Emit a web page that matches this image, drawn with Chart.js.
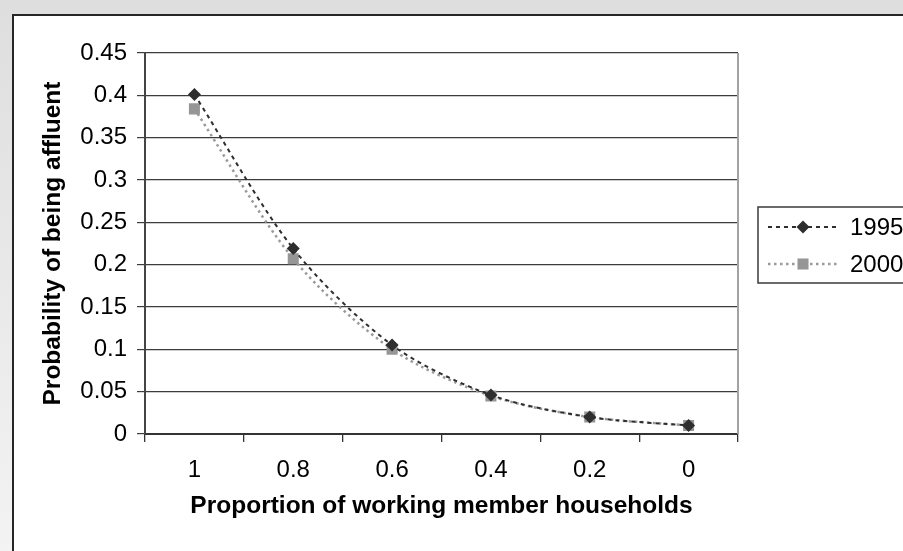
<!DOCTYPE html>
<html>
<head>
<meta charset="utf-8">
<script src="https://cdn.jsdelivr.net/npm/chart.js@4/dist/chart.umd.min.js"></script>
<style>
  html, body { margin: 0; padding: 0; background: #e4e4e4; }
  canvas { display: block; }
</style>
</head>
<body>
<canvas id="chart" width="903" height="551"></canvas>
<script>
// Share of working members in the household (category axis, read right to left)
const categories = ['1', '0.8', '0.6', '0.4', '0.2', '0'];

// Probability of being affluent for each survey year
const values1995 = [0.401, 0.219, 0.105, 0.046, 0.020, 0.010];
const values2000 = [0.384, 0.207, 0.100, 0.045, 0.020, 0.010];
const seriesNames = ['1995', '2000'];

// Value axis
const yMin = 0;
const yMax = 0.45;
const yStep = 0.05;

const FONT = "'Liberation Sans', Arial, Helvetica, sans-serif";

// Grey surround, white panel with a dark edge, and the plot-area right border
const framePlugin = {
  id: 'frame',
  beforeDraw(chart) {
    const { ctx, width, height } = chart;
    ctx.save();
    const g = ctx.createLinearGradient(0, 0, 0, height);
    g.addColorStop(0, '#dedede');
    g.addColorStop(1, '#f3f3f3');
    ctx.fillStyle = g;
    ctx.fillRect(0, 0, width, height);
    ctx.fillStyle = '#ffffff';
    ctx.fillRect(12, 14, width - 12, height - 14);
    ctx.strokeStyle = '#262626';
    ctx.lineWidth = 2;
    ctx.beginPath();
    ctx.moveTo(13, height);
    ctx.lineTo(13, 15);
    ctx.lineTo(width, 15);
    ctx.stroke();
    ctx.restore();
  },
  beforeDatasetsDraw(chart) {
    const { ctx, chartArea } = chart;
    ctx.save();
    ctx.strokeStyle = '#a3a3a3';
    ctx.lineWidth = 2;
    ctx.beginPath();
    ctx.moveTo(chartArea.right, chartArea.top);
    ctx.lineTo(chartArea.right, chartArea.bottom);
    ctx.stroke();
    ctx.restore();
  }
};

// Boxed legend with a line sample and marker for each dataset
function markerPath(ctx, style, x, y, r) {
  ctx.beginPath();
  if (style === 'rectRot') {
    ctx.moveTo(x, y - r);
    ctx.lineTo(x + r, y);
    ctx.lineTo(x, y + r);
    ctx.lineTo(x - r, y);
  } else {
    const s = r * Math.SQRT1_2;
    ctx.rect(x - s, y - s, 2 * s, 2 * s);
  }
  ctx.closePath();
}

const boxLegendPlugin = {
  id: 'boxLegend',
  afterDraw(chart, args, opts) {
    const { ctx } = chart;
    ctx.save();
    ctx.fillStyle = '#ffffff';
    ctx.fillRect(opts.x, opts.y, opts.width, opts.height);
    ctx.strokeStyle = '#3a3a3a';
    ctx.lineWidth = 1.5;
    ctx.strokeRect(opts.x, opts.y, opts.width, opts.height);
    chart.data.datasets.forEach((ds, i) => {
      const cy = opts.y + opts.firstRow + i * opts.rowGap;
      const x1 = opts.x + opts.lineStart;
      const x2 = opts.x + opts.lineEnd;
      ctx.strokeStyle = ds.borderColor;
      ctx.lineWidth = ds.borderWidth;
      ctx.setLineDash(ds.borderDash);
      ctx.beginPath();
      ctx.moveTo(x1, cy);
      ctx.lineTo(x2, cy);
      ctx.stroke();
      ctx.setLineDash([]);
      ctx.fillStyle = ds.pointBackgroundColor;
      markerPath(ctx, ds.pointStyle, (x1 + x2) / 2, cy, ds.pointRadius);
      ctx.fill();
      ctx.fillStyle = '#000000';
      ctx.font = opts.font;
      ctx.textAlign = 'left';
      ctx.textBaseline = 'middle';
      ctx.fillText(ds.label, opts.x + opts.textStart, cy + 1);
    });
    ctx.restore();
  }
};

new Chart(document.getElementById('chart'), {
  type: 'line',
  data: {
    labels: categories,
    datasets: [
      {
        label: seriesNames[0],
        data: values1995,
        borderColor: '#2e2e2e',
        borderWidth: 2,
        borderDash: [4, 4],
        tension: 0.3,
        pointStyle: 'rectRot',
        pointRadius: 6.5,
        pointBackgroundColor: '#2e2e2e',
        pointBorderWidth: 0,
        fill: false
      },
      {
        label: seriesNames[1],
        data: values2000,
        borderColor: '#9a9a9a',
        borderWidth: 2.5,
        borderDash: [2.5, 3.5],
        tension: 0.3,
        pointStyle: 'rect',
        pointRadius: 7.8,
        pointBackgroundColor: '#969696',
        pointBorderWidth: 0,
        fill: false
      }
    ]
  },
  options: {
    responsive: false,
    animation: false,
    events: [],
    layout: { padding: { left: 0, top: 53, right: 165, bottom: 0 } },
    plugins: {
      legend: { display: false },
      tooltip: { enabled: false },
      boxLegend: {
        x: 758, y: 207, width: 160, height: 76,
        firstRow: 20, rowGap: 37,
        lineStart: 10, lineEnd: 80, textStart: 92,
        font: '24px ' + FONT
      }
    },
    scales: {
      x: {
        type: 'category',
        offset: true,
        afterFit(scale) { scale.height = 117; },
        grid: {
          offset: true,
          drawOnChartArea: false,
          drawTicks: true,
          tickLength: 8,
          color: '#333333',
          lineWidth: 1.3
        },
        border: { display: true, color: '#333333', width: 2 },
        ticks: {
          color: '#000000',
          font: { family: FONT, size: 24 },
          padding: 14,
          maxRotation: 0,
          autoSkip: false
        },
        title: {
          display: true,
          text: 'Proportion of working member households',
          color: '#000000',
          font: { family: FONT, size: 24.5, weight: 'bold' },
          padding: { top: 0, bottom: 30 }
        }
      },
      y: {
        min: yMin,
        max: yMax,
        afterFit(scale) { scale.width = 145; },
        grid: {
          color: '#3c3c3c',
          lineWidth: 1.2,
          drawTicks: true,
          tickLength: 8
        },
        border: { display: true, color: '#444444', width: 2 },
        ticks: {
          stepSize: yStep,
          color: '#000000',
          font: { family: FONT, size: 24 },
          padding: 10,
          callback: (value) => String(parseFloat(Number(value).toFixed(2)))
        },
        title: {
          display: true,
          text: 'Probability of being affluent',
          color: '#000000',
          font: { family: FONT, size: 24.5, weight: 'bold' },
          padding: { top: 39, bottom: 0 }
        }
      }
    }
  },
  plugins: [framePlugin, boxLegendPlugin]
});
</script>
</body>
</html>
